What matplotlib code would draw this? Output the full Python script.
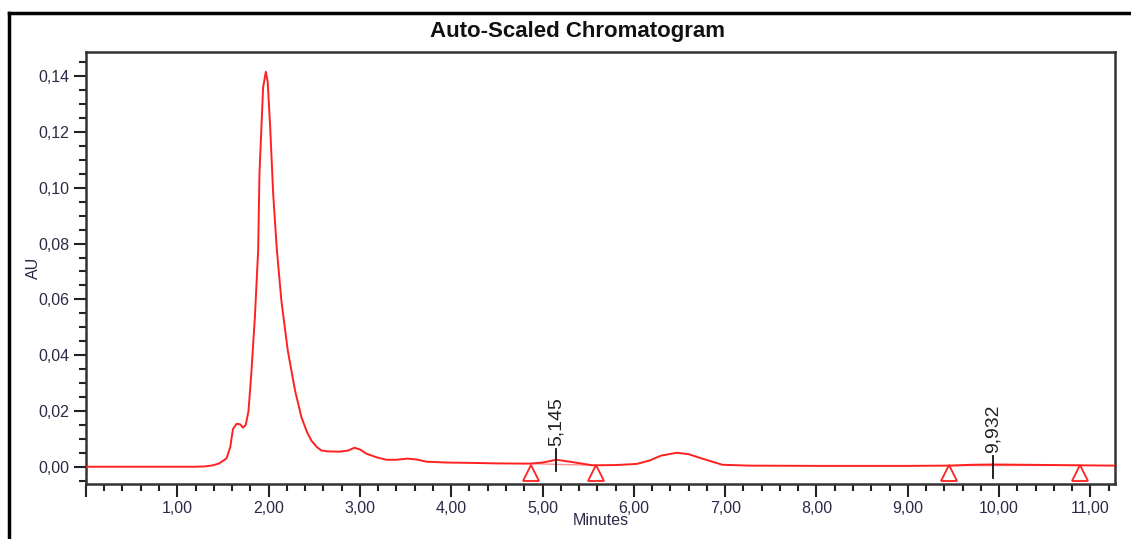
import numpy as np
import matplotlib
matplotlib.use("Agg")
import matplotlib.pyplot as plt
from matplotlib.ticker import MultipleLocator, FuncFormatter
from matplotlib.lines import Line2D

plt.rcParams['font.family'] = ['Liberation Sans', 'DejaVu Sans']

# Traza del detector (minutos, AU)
tiempo = [0.00, 1.20, 1.30, 1.39, 1.46, 1.54, 1.58, 1.61, 1.65, 1.69, 1.72, 1.75,
          1.78, 1.81, 1.85, 1.886, 1.90, 1.94, 1.97, 1.99, 2.017, 2.05, 2.09, 2.14,
          2.21, 2.29, 2.36, 2.42, 2.47, 2.53, 2.58, 2.65, 2.78, 2.87, 2.94, 3.00,
          3.07, 3.18, 3.29, 3.40, 3.52, 3.62, 3.73, 3.95, 4.17, 4.50, 4.86, 5.00,
          5.15, 5.30, 5.55, 5.80, 6.03, 6.17, 6.30, 6.47, 6.60, 6.75, 6.97, 7.26,
          8.00, 9.00, 9.45, 9.70, 9.93, 10.30, 10.89, 11.27]
absorbancia = [0.0, 0.0, 0.0001, 0.0005, 0.0012, 0.0030, 0.0070, 0.0135, 0.0154, 0.0152,
               0.0140, 0.0150, 0.0200, 0.0330, 0.0536, 0.0776, 0.1050, 0.1360, 0.1416,
               0.1380, 0.1220, 0.0980, 0.0780, 0.0596, 0.0417, 0.0273, 0.0177, 0.0125,
               0.0093, 0.0070, 0.0058, 0.0055, 0.0054, 0.0058, 0.0068, 0.0062, 0.0047,
               0.0034, 0.0025, 0.0025, 0.0029, 0.0026, 0.0018, 0.0015, 0.0014, 0.0012,
               0.0011, 0.0015, 0.0025, 0.0018, 0.0005, 0.0006, 0.0010, 0.0022, 0.0040,
               0.0050, 0.0045, 0.0029, 0.0007, 0.0004, 0.0003, 0.0003, 0.0004, 0.0007,
               0.0008, 0.0007, 0.0005, 0.0004]

# Picos integrados: tiempo de retencion, inicio y fin de la linea base
picos_rt = [5.145, 9.932]
picos_txt = ['5,145', '9,932']
base_ini = [4.87, 9.45]
base_fin = [5.59, 10.89]
base_ini_y = [0.0011, 0.0004]
base_fin_y = [0.0005, 0.0005]

fig = plt.figure(figsize=(11.31, 5.39), dpi=100)
ax = fig.add_axes([0.0760, 0.1020, 0.9099, 0.8021])

ax.plot(tiempo, absorbancia, color='#ff2020', lw=1.4, zorder=3)

# lineas base de integracion y marcas de inicio/fin
for x0, x1, y0, y1 in zip(base_ini, base_fin, base_ini_y, base_fin_y):
    ax.plot([x0, x1], [y0, y1], color='#ff9090', lw=1.0, zorder=2)
    ax.plot([x0, x1], [-0.0021, -0.0021], ls='none', marker='^', ms=11,
            mfc='none', mec='#ff2020', mew=1.3, zorder=4)

# marca del tiempo de retencion y etiqueta
for rt, txt, dy in zip(picos_rt, picos_txt, [0.0, -0.0025]):
    ax.plot([rt, rt], [-0.0014 + dy, 0.0065 + dy], color='#111111', lw=1.3, zorder=5)
    ax.text(rt, 0.0074 + dy, txt, rotation=90, ha='center', va='bottom',
            fontsize=14, color='#222222')

ax.set_xlim(0, 11.27)
ax.set_ylim(-0.0062, 0.1488)
ax.xaxis.set_major_locator(MultipleLocator(1.0))
ax.xaxis.set_minor_locator(MultipleLocator(0.2))
ax.yaxis.set_major_locator(MultipleLocator(0.02))
ax.yaxis.set_minor_locator(MultipleLocator(0.005))

ax.xaxis.set_major_formatter(FuncFormatter(lambda v, p: '' if v < 0.5 else f'{v:.2f}'.replace('.', ',')))
ax.yaxis.set_major_formatter(FuncFormatter(lambda v, p: f'{v:.2f}'.replace('.', ',')))

lbl_color = '#2a2a48'
ax.tick_params(axis='both', which='major', direction='out', length=9, width=1.5,
               color='#222222', labelsize=11.5, labelcolor=lbl_color, pad=3)
ax.tick_params(axis='both', which='minor', direction='out', length=5, width=1.5,
               color='#222222')
for sp in ax.spines.values():
    sp.set_linewidth(1.8)
    sp.set_color('#333333')

ax.set_xlabel('Minutes', fontsize=11.5, color=lbl_color)
ax.set_ylabel('AU', fontsize=11.5, color=lbl_color)
ax.xaxis.set_label_coords(0.5, -0.068)
ax.yaxis.set_label_coords(-0.044, 0.5)

fig.text(577 / 1131, 1 - 31 / 539, 'Auto-Scaled Chromatogram', ha='center', va='center',
         fontsize=16, fontweight='bold', color='#111111')

# marco exterior del reporte
fig.add_artist(Line2D([9 / 1131, 9 / 1131], [0, 1 - 13 / 539], color='black', lw=2.5,
                      transform=fig.transFigure))
fig.add_artist(Line2D([9 / 1131, 1], [1 - 13 / 539, 1 - 13 / 539], color='black', lw=2.5,
                      transform=fig.transFigure))

fig.savefig('out.png', dpi=100)
